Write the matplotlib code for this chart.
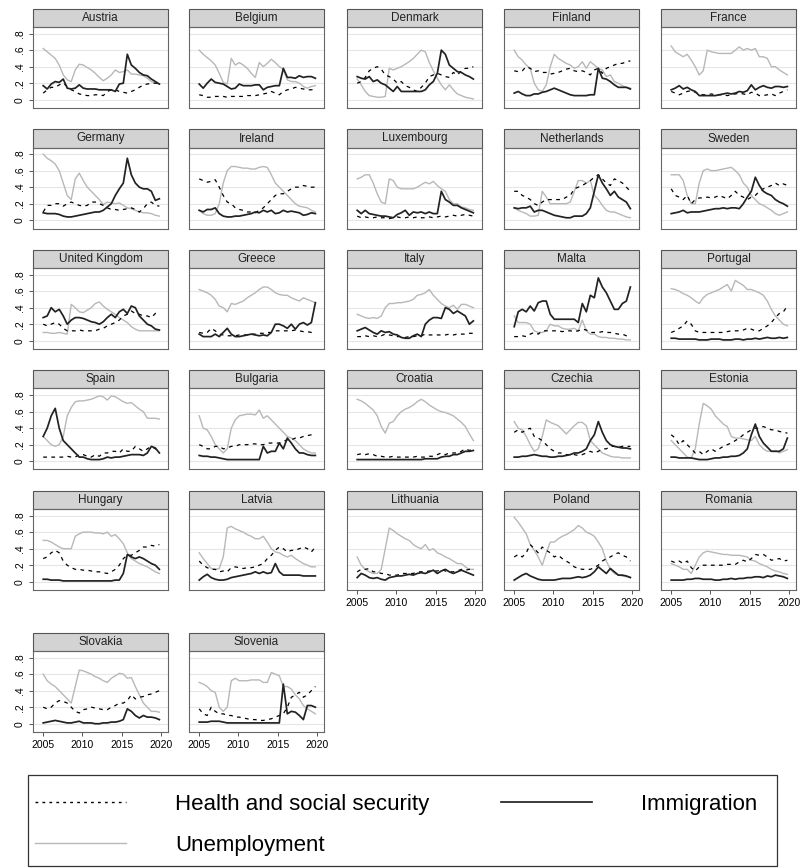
import numpy as np
import matplotlib.pyplot as plt
from matplotlib.patches import Rectangle
from matplotlib.lines import Line2D

plt.rcParams['font.family'] = ['Liberation Sans', 'DejaVu Sans']

countries = [
    "Austria", "Belgium", "Denmark", "Finland", "France",
    "Germany", "Ireland", "Luxembourg", "Netherlands", "Sweden",
    "United Kingdom", "Greece", "Italy", "Malta", "Portugal",
    "Spain", "Bulgaria", "Croatia", "Czechia", "Estonia",
    "Hungary", "Latvia", "Lithuania", "Poland", "Romania",
    "Slovakia", "Slovenia",
]

# share naming each issue, in percent, one value per survey wave (spring/autumn 2005-2019)
health = {
    "Austria": [8, 12, 15, 15, 18, 20, 16, 12, 10, 7, 6, 5, 5, 6, 6, 5, 10, 12, 12, 10, 9, 8, 10, 12, 15, 18, 19, 20, 20, 20],
    "Belgium": [6, 5, 3, 3, 4, 4, 4, 3, 4, 4, 4, 4, 5, 5, 5, 6, 7, 8, 10, 8, 6, 10, 12, 13, 15, 14, 13, 12, 12, 13],
    "Denmark": [20, 22, 27, 35, 38, 40, 37, 30, 28, 25, 20, 22, 17, 15, 12, 10, 15, 20, 28, 30, 32, 30, 28, 27, 33, 30, 35, 38, 38, 40],
    "Finland": [35, 34, 35, 40, 38, 34, 35, 33, 33, 31, 32, 33, 35, 37, 38, 35, 34, 35, 33, 30, 36, 38, 32, 38, 40, 42, 44, 44, 46, 47],
    "France": [10, 8, 6, 8, 10, 11, 9, 7, 6, 6, 7, 6, 6, 6, 5, 6, 7, 8, 7, 6, 9, 8, 5, 5, 6, 7, 5, 8, 10, 12],
    "Germany": [10, 18, 18, 20, 20, 17, 20, 22, 20, 18, 17, 18, 22, 22, 20, 18, 15, 13, 13, 12, 13, 14, 15, 13, 10, 14, 20, 22, 18, 17],
    "Ireland": [50, 48, 46, 47, 49, 40, 30, 22, 20, 15, 13, 12, 10, 10, 9, 12, 15, 20, 25, 30, 32, 32, 35, 38, 40, 40, 42, 41, 40, 40],
    "Luxembourg": [5, 3, 4, 3, 3, 4, 3, 3, 2, 3, 4, 3, 3, 4, 3, 4, 3, 3, 4, 3, 4, 5, 4, 5, 6, 5, 6, 7, 6, 5],
    "Netherlands": [35, 35, 30, 28, 25, 20, 18, 22, 25, 25, 25, 25, 25, 28, 30, 38, 40, 42, 45, 48, 52, 55, 50, 45, 42, 50, 48, 45, 40, 35],
    "Sweden": [38, 30, 28, 25, 30, 20, 25, 27, 27, 28, 27, 28, 30, 28, 26, 30, 35, 30, 28, 25, 28, 30, 35, 38, 40, 42, 45, 42, 44, 42],
    "United Kingdom": [20, 18, 20, 22, 20, 15, 12, 12, 12, 13, 12, 12, 12, 12, 14, 15, 18, 20, 22, 25, 30, 32, 36, 33, 32, 30, 30, 28, 33, 35],
    "Greece": [10, 9, 10, 15, 12, 8, 7, 6, 6, 6, 7, 7, 7, 8, 8, 9, 9, 10, 10, 12, 12, 12, 12, 12, 13, 12, 11, 11, 10, 10],
    "Italy": [5, 5, 6, 5, 6, 5, 6, 8, 7, 6, 5, 5, 4, 5, 5, 6, 6, 8, 7, 7, 7, 7, 7, 8, 7, 8, 8, 8, 9, 9],
    "Malta": [5, 5, 6, 5, 8, 10, 8, 12, 12, 12, 12, 12, 11, 12, 12, 11, 12, 14, 13, 10, 10, 10, 11, 10, 10, 9, 8, 8, 6, 4],
    "Portugal": [10, 12, 15, 18, 24, 20, 12, 10, 10, 10, 10, 10, 10, 10, 11, 12, 12, 12, 13, 15, 14, 12, 12, 15, 18, 22, 28, 33, 35, 42],
    "Spain": [5, 5, 5, 5, 5, 5, 6, 5, 5, 8, 8, 6, 5, 8, 6, 10, 10, 12, 12, 10, 15, 12, 12, 18, 15, 12, 15, 18, 15, 12],
    "Bulgaria": [20, 18, 15, 15, 18, 18, 15, 16, 18, 18, 20, 20, 20, 21, 21, 20, 20, 22, 22, 22, 22, 24, 26, 26, 28, 28, 30, 31, 32, 33],
    "Croatia": [8, 9, 8, 9, 8, 6, 6, 5, 5, 6, 5, 5, 5, 5, 5, 6, 5, 5, 6, 6, 8, 10, 8, 10, 10, 10, 12, 15, 13, 15],
    "Czechia": [35, 38, 35, 38, 40, 30, 28, 25, 20, 15, 12, 10, 10, 8, 8, 8, 7, 8, 10, 12, 10, 12, 15, 15, 18, 18, 17, 18, 18, 18],
    "Estonia": [32, 28, 20, 25, 20, 15, 10, 12, 8, 12, 15, 12, 15, 18, 20, 22, 25, 28, 32, 35, 38, 40, 40, 42, 40, 38, 38, 36, 35, 34],
    "Hungary": [28, 30, 35, 38, 35, 25, 20, 17, 15, 15, 14, 14, 13, 12, 12, 11, 10, 12, 15, 20, 28, 32, 32, 35, 38, 42, 42, 44, 43, 45],
    "Latvia": [25, 20, 17, 15, 15, 12, 13, 12, 17, 18, 17, 16, 17, 17, 18, 20, 22, 28, 32, 38, 42, 40, 36, 38, 38, 40, 42, 40, 36, 42],
    "Lithuania": [12, 15, 15, 16, 12, 12, 10, 10, 8, 8, 8, 10, 10, 10, 10, 12, 12, 12, 13, 13, 13, 15, 13, 12, 12, 13, 15, 14, 15, 15],
    "Poland": [30, 33, 30, 35, 45, 40, 35, 42, 38, 35, 30, 32, 28, 25, 22, 18, 16, 15, 15, 15, 17, 20, 25, 28, 30, 33, 35, 32, 30, 25],
    "Romania": [25, 23, 25, 22, 25, 17, 13, 18, 20, 20, 20, 20, 20, 20, 21, 21, 21, 24, 26, 24, 28, 33, 32, 33, 30, 26, 27, 28, 25, 26],
    "Slovakia": [20, 18, 20, 25, 28, 27, 25, 20, 15, 13, 17, 18, 20, 19, 18, 17, 17, 20, 22, 25, 25, 28, 35, 30, 32, 33, 35, 36, 38, 40],
    "Slovenia": [18, 12, 10, 20, 15, 12, 12, 10, 10, 8, 8, 7, 6, 5, 5, 4, 4, 5, 6, 8, 10, 12, 20, 32, 35, 38, 32, 35, 40, 45],
}

immigration = {
    "Austria": [17, 13, 19, 22, 21, 25, 14, 13, 14, 18, 14, 13, 13, 13, 12, 12, 12, 12, 10, 19, 20, 55, 42, 38, 33, 30, 29, 25, 22, 19],
    "Belgium": [19, 14, 20, 25, 21, 20, 19, 16, 13, 14, 19, 17, 17, 17, 18, 18, 12, 15, 16, 17, 17, 38, 27, 27, 26, 29, 27, 28, 28, 26],
    "Denmark": [28, 26, 25, 28, 22, 24, 20, 18, 14, 10, 16, 10, 10, 10, 10, 10, 10, 12, 18, 22, 32, 60, 55, 42, 38, 34, 33, 30, 28, 25],
    "Finland": [8, 10, 7, 5, 5, 7, 7, 9, 10, 12, 14, 12, 10, 8, 6, 5, 5, 5, 5, 6, 6, 38, 26, 25, 22, 18, 15, 15, 15, 13],
    "France": [12, 14, 17, 13, 15, 12, 10, 5, 5, 5, 5, 5, 6, 7, 8, 7, 8, 10, 9, 11, 18, 12, 15, 17, 15, 14, 16, 16, 15, 16],
    "Germany": [9, 8, 8, 8, 7, 5, 4, 4, 5, 6, 7, 8, 9, 10, 10, 12, 16, 20, 30, 38, 45, 75, 55, 45, 40, 38, 38, 35, 24, 26],
    "Ireland": [12, 10, 13, 13, 15, 8, 5, 4, 4, 5, 5, 6, 7, 8, 10, 9, 12, 10, 12, 8, 9, 12, 10, 11, 10, 9, 6, 7, 9, 8],
    "Luxembourg": [12, 8, 12, 8, 7, 6, 5, 5, 4, 3, 7, 9, 12, 6, 10, 9, 10, 8, 10, 8, 8, 35, 25, 22, 18, 18, 15, 13, 11, 9],
    "Netherlands": [15, 14, 15, 15, 17, 10, 12, 12, 10, 8, 6, 5, 4, 3, 3, 5, 5, 5, 8, 15, 35, 55, 45, 38, 30, 35, 28, 25, 22, 14],
    "Sweden": [8, 9, 10, 12, 9, 10, 10, 10, 11, 12, 13, 14, 14, 15, 14, 15, 15, 14, 20, 28, 35, 52, 42, 35, 32, 30, 25, 22, 20, 17],
    "United Kingdom": [28, 30, 40, 35, 38, 30, 20, 25, 28, 28, 27, 25, 23, 22, 20, 23, 28, 32, 28, 35, 38, 33, 42, 40, 30, 25, 20, 18, 14, 13],
    "Greece": [8, 5, 5, 5, 8, 5, 10, 15, 8, 5, 5, 6, 7, 8, 7, 6, 7, 6, 10, 20, 20, 18, 15, 20, 14, 20, 22, 19, 22, 46],
    "Italy": [12, 14, 16, 13, 10, 8, 12, 10, 11, 8, 7, 4, 3, 3, 6, 8, 5, 20, 25, 28, 28, 27, 40, 38, 33, 36, 33, 30, 20, 24],
    "Malta": [17, 35, 38, 35, 42, 36, 46, 48, 48, 32, 26, 26, 26, 26, 26, 26, 22, 45, 35, 55, 52, 76, 65, 58, 48, 38, 38, 45, 48, 65],
    "Portugal": [3, 3, 2, 2, 2, 2, 2, 1, 1, 1, 2, 2, 2, 1, 1, 1, 2, 2, 1, 2, 2, 3, 2, 3, 4, 3, 3, 4, 3, 4],
    "Spain": [30, 40, 55, 64, 40, 25, 20, 15, 10, 5, 5, 3, 2, 2, 2, 3, 5, 4, 5, 5, 6, 7, 8, 8, 8, 7, 10, 18, 16, 10],
    "Bulgaria": [7, 6, 6, 5, 5, 4, 3, 2, 2, 2, 2, 2, 2, 2, 2, 2, 18, 10, 12, 12, 22, 15, 28, 22, 15, 10, 10, 8, 7, 7],
    "Croatia": [2, 2, 2, 2, 2, 2, 2, 2, 2, 2, 2, 2, 2, 2, 2, 2, 2, 3, 3, 3, 3, 5, 6, 6, 8, 8, 10, 12, 12, 13],
    "Czechia": [5, 5, 6, 6, 7, 8, 7, 6, 6, 5, 5, 6, 6, 7, 8, 10, 10, 12, 15, 25, 32, 48, 35, 25, 20, 18, 17, 16, 16, 15],
    "Estonia": [5, 5, 4, 4, 4, 4, 3, 2, 2, 2, 3, 4, 4, 5, 5, 6, 6, 7, 10, 15, 32, 45, 30, 22, 17, 12, 12, 12, 15, 28],
    "Hungary": [3, 3, 2, 2, 2, 1, 1, 1, 1, 1, 1, 1, 1, 1, 1, 1, 1, 1, 2, 2, 10, 33, 30, 28, 30, 28, 25, 22, 20, 15],
    "Latvia": [2, 6, 9, 5, 3, 2, 2, 3, 5, 6, 7, 8, 9, 10, 12, 10, 12, 10, 11, 22, 12, 8, 8, 8, 8, 8, 7, 7, 7, 7],
    "Lithuania": [5, 10, 8, 5, 4, 5, 3, 2, 5, 6, 7, 7, 8, 9, 8, 10, 11, 10, 12, 14, 10, 13, 15, 12, 10, 12, 14, 12, 10, 8],
    "Poland": [2, 5, 8, 10, 7, 5, 3, 2, 2, 2, 2, 3, 4, 4, 4, 5, 6, 5, 6, 8, 12, 18, 14, 10, 16, 12, 8, 8, 7, 5],
    "Romania": [2, 2, 2, 2, 3, 3, 4, 4, 3, 3, 3, 2, 2, 3, 3, 4, 3, 4, 4, 5, 5, 6, 6, 5, 7, 6, 8, 7, 6, 4],
    "Slovakia": [1, 2, 3, 4, 3, 2, 1, 1, 2, 3, 1, 1, 1, 0, 0, 1, 1, 2, 2, 3, 5, 18, 15, 10, 7, 10, 8, 8, 7, 5],
    "Slovenia": [2, 2, 2, 3, 3, 3, 2, 1, 1, 1, 1, 1, 1, 1, 1, 1, 1, 1, 1, 1, 1, 48, 12, 15, 14, 10, 5, 22, 22, 20],
}

unemployment = {
    "Austria": [62, 58, 54, 50, 42, 30, 24, 22, 36, 43, 42, 39, 36, 32, 27, 23, 26, 30, 36, 33, 34, 36, 31, 31, 30, 29, 26, 22, 20, 19],
    "Belgium": [60, 55, 51, 47, 42, 32, 21, 19, 50, 42, 45, 42, 38, 32, 27, 45, 40, 44, 49, 45, 40, 37, 24, 22, 22, 20, 16, 14, 16, 17],
    "Denmark": [25, 18, 10, 5, 4, 3, 3, 4, 38, 36, 38, 40, 43, 46, 50, 55, 60, 58, 45, 35, 26, 18, 12, 18, 12, 7, 5, 3, 2, 1],
    "Finland": [60, 52, 48, 42, 38, 20, 12, 10, 18, 40, 55, 50, 47, 44, 42, 38, 40, 46, 38, 46, 42, 38, 36, 28, 30, 22, 20, 17, 15, 14],
    "France": [65, 58, 55, 52, 55, 48, 40, 30, 35, 60, 58, 57, 56, 56, 56, 56, 60, 64, 60, 62, 60, 62, 52, 52, 50, 40, 40, 36, 33, 30],
    "Germany": [80, 75, 72, 68, 60, 45, 30, 25, 50, 57, 48, 40, 35, 30, 25, 19, 22, 21, 20, 21, 18, 15, 14, 12, 10, 9, 9, 8, 6, 5],
    "Ireland": [12, 8, 6, 6, 8, 20, 45, 60, 65, 65, 64, 63, 63, 62, 62, 64, 65, 64, 55, 45, 40, 35, 30, 25, 20, 17, 16, 15, 12, 10],
    "Luxembourg": [50, 52, 55, 55, 45, 32, 22, 20, 50, 48, 40, 38, 38, 38, 38, 40, 43, 46, 44, 47, 42, 38, 35, 25, 20, 20, 16, 15, 13, 12],
    "Netherlands": [15, 12, 10, 8, 5, 5, 6, 35, 28, 20, 20, 20, 20, 20, 22, 35, 48, 48, 45, 48, 30, 25, 18, 12, 10, 10, 8, 6, 4, 3],
    "Sweden": [55, 55, 55, 48, 30, 20, 20, 45, 60, 62, 60, 60, 61, 62, 63, 64, 60, 55, 45, 40, 30, 25, 20, 18, 15, 12, 8, 6, 8, 10],
    "United Kingdom": [10, 10, 9, 9, 10, 9, 8, 44, 40, 35, 34, 37, 40, 45, 47, 42, 38, 35, 32, 28, 25, 22, 17, 14, 12, 12, 12, 12, 12, 12],
    "Greece": [62, 60, 58, 55, 50, 42, 40, 35, 45, 44, 46, 48, 52, 55, 58, 62, 65, 65, 62, 58, 56, 55, 55, 52, 50, 48, 52, 50, 48, 46],
    "Italy": [32, 30, 28, 27, 28, 27, 30, 40, 45, 45, 46, 46, 47, 48, 50, 55, 56, 58, 62, 55, 50, 45, 42, 40, 43, 38, 44, 44, 42, 40],
    "Malta": [30, 22, 22, 22, 20, 12, 10, 10, 12, 20, 18, 18, 15, 14, 14, 15, 12, 25, 12, 8, 8, 5, 4, 4, 3, 3, 2, 2, 1, 1],
    "Portugal": [63, 62, 60, 57, 55, 52, 48, 45, 52, 56, 58, 60, 62, 65, 68, 60, 73, 70, 67, 62, 62, 60, 58, 55, 48, 38, 30, 25, 20, 18],
    "Spain": [30, 25, 20, 18, 20, 30, 55, 65, 72, 73, 73, 74, 75, 77, 79, 78, 74, 79, 78, 75, 72, 70, 71, 67, 63, 60, 52, 52, 52, 51],
    "Bulgaria": [55, 40, 38, 30, 20, 15, 10, 15, 40, 50, 55, 56, 57, 57, 56, 62, 52, 55, 50, 45, 40, 35, 30, 28, 25, 20, 15, 12, 10, 10],
    "Croatia": [75, 73, 70, 66, 62, 55, 42, 34, 46, 48, 55, 60, 63, 65, 68, 72, 75, 72, 68, 65, 62, 60, 59, 57, 55, 51, 47, 42, 33, 25],
    "Czechia": [48, 40, 38, 30, 20, 12, 15, 30, 50, 47, 45, 43, 38, 33, 38, 43, 47, 47, 43, 25, 20, 15, 10, 8, 6, 5, 5, 4, 4, 4],
    "Estonia": [25, 20, 15, 10, 5, 4, 15, 45, 70, 67, 63, 55, 50, 45, 42, 30, 28, 28, 27, 26, 25, 30, 20, 15, 12, 12, 13, 10, 12, 14],
    "Hungary": [50, 50, 48, 45, 42, 40, 40, 40, 55, 58, 60, 60, 60, 59, 59, 58, 60, 55, 57, 52, 46, 35, 28, 25, 22, 20, 18, 15, 12, 10],
    "Latvia": [35, 28, 22, 16, 15, 16, 30, 65, 67, 64, 62, 60, 57, 55, 52, 52, 55, 48, 40, 36, 35, 32, 30, 32, 28, 25, 22, 20, 18, 18],
    "Lithuania": [30, 20, 15, 12, 10, 10, 15, 40, 65, 62, 58, 55, 52, 50, 45, 42, 40, 45, 38, 40, 35, 33, 30, 28, 25, 22, 22, 18, 15, 15],
    "Poland": [78, 72, 65, 58, 45, 38, 30, 20, 35, 48, 48, 52, 55, 57, 60, 63, 68, 65, 60, 58, 55, 48, 40, 25, 15, 10, 8, 7, 6, 6],
    "Romania": [22, 20, 18, 15, 15, 10, 20, 30, 35, 37, 36, 35, 34, 33, 33, 32, 32, 32, 31, 30, 26, 25, 22, 20, 18, 15, 13, 12, 10, 9],
    "Slovakia": [60, 52, 48, 45, 40, 35, 30, 25, 45, 65, 64, 62, 60, 57, 55, 52, 50, 55, 58, 61, 60, 55, 56, 45, 35, 25, 20, 15, 15, 14],
    "Slovenia": [50, 48, 45, 40, 38, 20, 15, 20, 52, 55, 52, 52, 52, 53, 53, 53, 50, 50, 62, 60, 58, 45, 45, 42, 35, 30, 22, 18, 15, 12],
}

year_ticks = [2005, 2010, 2015, 2020]
share_ticks = [0, 0.2, 0.4, 0.6, 0.8]
share_labels = ["0", ".2", ".4", ".6", ".8"]

waves = np.linspace(2005, 2019.8, 30)

W, H = 803, 868
fig = plt.figure(figsize=(W / 100, H / 100), dpi=100)

# panel grid in pixels
col_left = [33, 189, 347, 504, 661]
strip_top = [9, 129.5, 250, 370.5, 491, 633]
panel_w, panel_h, strip_h = 135, 81, 18

style_health = dict(color="black", lw=0.9, dashes=(3, 3.5))
style_immig = dict(color="#222222", lw=1.25)
style_unemp = dict(color="#b8b8b8", lw=1.0)

for k, name in enumerate(countries):
    r, c = divmod(k, 5)
    top = strip_top[r] + strip_h
    ax = fig.add_axes([col_left[c] / W, 1 - (top + panel_h) / H, panel_w / W, panel_h / H])

    ax.plot(waves, np.array(unemployment[name]) / 100, **style_unemp)
    ax.plot(waves, np.array(health[name]) / 100, **style_health)
    ax.plot(waves, np.array(immigration[name]) / 100, **style_immig)

    ax.set_xlim(2003.7, 2020.9)
    ax.set_ylim(-0.1, 0.88)
    ax.set_yticks(share_ticks)
    ax.set_yticklabels(share_labels)
    ax.set_xticks(year_ticks)
    ax.grid(axis="y", color="#e6e6e6", lw=0.8)
    ax.set_axisbelow(True)
    for sp in ax.spines.values():
        sp.set_color("#666666")
        sp.set_linewidth(0.8)

    show_x = k >= len(countries) - 5
    ax.tick_params(axis="y", left=(c == 0), labelleft=(c == 0), length=3,
                   width=0.7, color="#555555", labelsize=7.5, pad=3)
    ax.tick_params(axis="x", bottom=show_x, labelbottom=show_x, length=3,
                   width=0.7, color="#555555", labelsize=7.5, pad=2.5)
    if c == 0:
        for lab in ax.get_yticklabels():
            lab.set_rotation(90)
            lab.set_va("center")

    # header strip with the country name
    ax.add_patch(Rectangle((0, 1), 1, strip_h / panel_h, transform=ax.transAxes,
                           clip_on=False, fc="#d3d3d3", ec="#555555", lw=0.8))
    ax.text(0.5, 1 + strip_h / panel_h / 2, name, transform=ax.transAxes,
            ha="center", va="center", fontsize=8.5, color="#222222")

# legend: frame drawn separately so the inner padding can be set freely
fig.patches.append(Rectangle((28 / W, 1 - 866 / H), 749 / W, 91 / H,
                             transform=fig.transFigure, fill=False,
                             ec="#333333", lw=0.9))
handles = [
    Line2D([], [], color="black", lw=1.0, dashes=(2, 3)),
    Line2D([], [], **style_unemp),
    Line2D([], [], **style_immig),
]
labels = ["Health and social security", "Unemployment", "Immigration"]
fig.legend(handles, labels, ncol=2, loc="upper left",
           bbox_to_anchor=(35 / W, 1 - 852 / H, 722 / W, 58 / H),
           mode="expand", fontsize=16, handlelength=4.1, handletextpad=2.2,
           labelspacing=0.9, borderpad=0, borderaxespad=0, frameon=False)

fig.savefig("out.png", dpi=100)
